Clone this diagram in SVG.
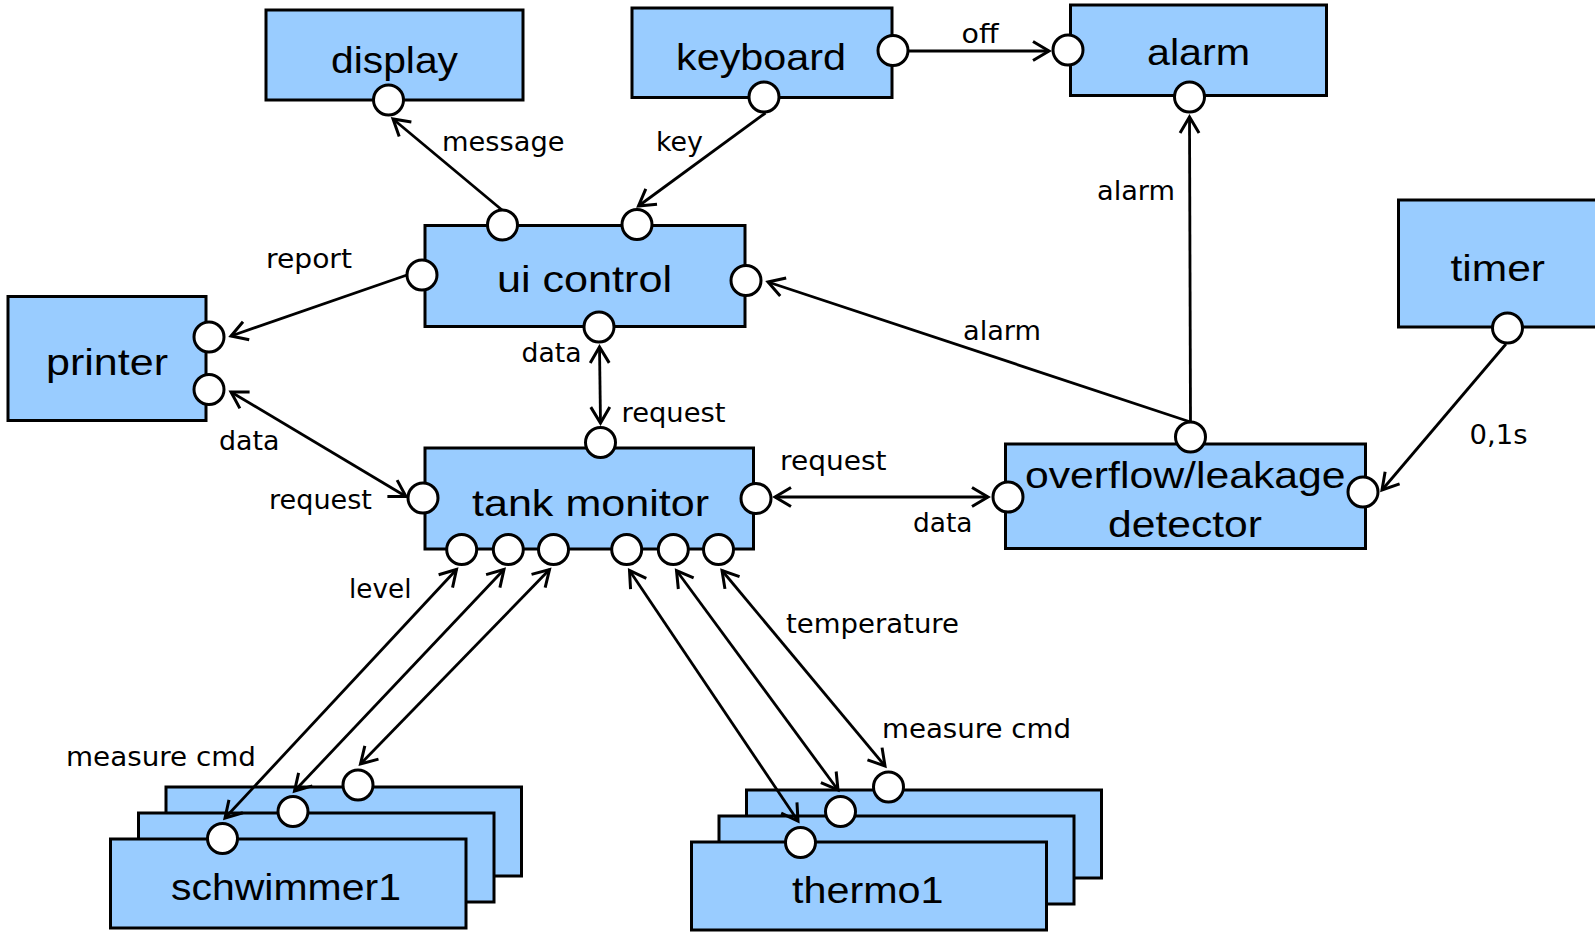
<svg xmlns="http://www.w3.org/2000/svg" width="1595" height="933" viewBox="0 0 1595 933">
<style>
.box{fill:#99CCFF;stroke:#000;stroke-width:3}
.port{fill:#fff;stroke:#000;stroke-width:3}
.bl{font-family:"Liberation Sans",Arial,sans-serif;font-size:36px;fill:#000}
.lb{font-family:"DejaVu Sans","Liberation Sans",sans-serif;font-size:26px;fill:#000}
.c{fill:none;stroke:#000;stroke-width:2.8}
.a{marker-end:url(#ah)}
.aa{marker-end:url(#ah);marker-start:url(#ah)}
</style>
<defs>
<marker id="ah" markerUnits="userSpaceOnUse" markerWidth="24" markerHeight="24" viewBox="0 0 24 24" refX="20" refY="12" orient="auto-start-reverse">
<path d="M4,2.5 L20,12 L4,21.5" fill="none" stroke="#000" stroke-width="3"/>
</marker>
</defs>
<rect width="1595" height="933" fill="#fff"/>

<g id="display">
<rect class="box" x="266" y="10" width="257" height="90"/>
<text class="bl" x="331" y="73" textLength="127" lengthAdjust="spacingAndGlyphs">display</text>
<circle class="port" cx="388.5" cy="100" r="15"/>
</g>
<g id="keyboard">
<rect class="box" x="632" y="8" width="260" height="89.5"/>
<text class="bl" x="676" y="69.5" textLength="170" lengthAdjust="spacingAndGlyphs">keyboard</text>
<circle class="port" cx="764" cy="97" r="15"/>
<circle class="port" cx="893" cy="50.5" r="15"/>
</g>
<g id="alarm">
<rect class="box" x="1070.5" y="5" width="256" height="90.5"/>
<text class="bl" x="1147" y="65" textLength="103" lengthAdjust="spacingAndGlyphs">alarm</text>
<circle class="port" cx="1068" cy="50" r="15"/>
<circle class="port" cx="1189.5" cy="97" r="15"/>
</g>
<g id="ui-control">
<rect class="box" x="425" y="225.5" width="320" height="101"/>
<text class="bl" x="497" y="292" textLength="175" lengthAdjust="spacingAndGlyphs">ui control</text>
<circle class="port" cx="502.5" cy="225" r="15"/>
<circle class="port" cx="637" cy="224.5" r="15"/>
<circle class="port" cx="422" cy="275" r="15"/>
<circle class="port" cx="746" cy="280.5" r="15"/>
<circle class="port" cx="599" cy="327" r="15"/>
</g>
<g id="printer">
<rect class="box" x="8" y="296.5" width="198" height="124"/>
<text class="bl" x="46" y="375" textLength="122" lengthAdjust="spacingAndGlyphs">printer</text>
<circle class="port" cx="209" cy="337" r="15"/>
<circle class="port" cx="209" cy="389.5" r="15"/>
</g>
<g id="tank-monitor">
<rect class="box" x="425" y="448" width="328.5" height="101"/>
<text class="bl" x="472" y="515.5" textLength="237" lengthAdjust="spacingAndGlyphs">tank monitor</text>
<circle class="port" cx="600.5" cy="442.5" r="15"/>
<circle class="port" cx="423" cy="498" r="15"/>
<circle class="port" cx="756" cy="498.5" r="15"/>
<circle class="port" cx="461.7" cy="549.5" r="15"/>
<circle class="port" cx="508.3" cy="549.5" r="15"/>
<circle class="port" cx="553.5" cy="549.5" r="15"/>
<circle class="port" cx="626.7" cy="549.5" r="15"/>
<circle class="port" cx="673.3" cy="549.5" r="15"/>
<circle class="port" cx="718.5" cy="549.5" r="15"/>
</g>
<g id="timer">
<rect class="box" x="1398.5" y="200" width="200" height="127"/>
<text class="bl" x="1450.5" y="280.5" textLength="94.5" lengthAdjust="spacingAndGlyphs">timer</text>
<circle class="port" cx="1507.5" cy="328" r="15"/>
</g>
<g id="detector">
<rect class="box" x="1005.5" y="444" width="360" height="104.5"/>
<text class="bl" x="1025" y="487.5" textLength="320.5" lengthAdjust="spacingAndGlyphs">overflow/leakage</text>
<text class="bl" x="1108" y="536.5" textLength="154" lengthAdjust="spacingAndGlyphs">detector</text>
<circle class="port" cx="1190.5" cy="437" r="15"/>
<circle class="port" cx="1008" cy="497" r="15"/>
<circle class="port" cx="1363" cy="492" r="15"/>
</g>
<g id="schwimmer">
<rect class="box" x="166" y="787" width="355.5" height="89"/>
<circle class="port" cx="358" cy="785" r="15"/>
<rect class="box" x="138.5" y="813" width="355.5" height="89"/>
<circle class="port" cx="293" cy="811.5" r="15"/>
<rect class="box" x="110.5" y="839" width="355.5" height="89"/>
<circle class="port" cx="222.5" cy="838.5" r="15"/>
<text class="bl" x="171" y="900" textLength="230" lengthAdjust="spacingAndGlyphs">schwimmer1</text>
</g>
<g id="thermo">
<rect class="box" x="746.5" y="790" width="355" height="88"/>
<circle class="port" cx="888.5" cy="787" r="15"/>
<rect class="box" x="719" y="816" width="355" height="88"/>
<circle class="port" cx="840.5" cy="811.5" r="15"/>
<rect class="box" x="691.5" y="842" width="355" height="88"/>
<circle class="port" cx="800.5" cy="842.5" r="15"/>
<text class="bl" x="792" y="903" textLength="151.5" lengthAdjust="spacingAndGlyphs">thermo1</text>
</g>

<g id="connectors">
<line class="c a" x1="502" y1="210" x2="393" y2="119"/>
<line class="c a" x1="765.5" y1="113" x2="638.5" y2="206"/>
<line class="c a" x1="908" y1="51" x2="1049" y2="51"/>
<line class="c a" x1="407" y1="275" x2="231" y2="336"/>
<line class="c aa" x1="231" y1="392" x2="406" y2="496.5"/>
<line class="c aa" x1="599.5" y1="347" x2="600.5" y2="423"/>
<line class="c a" x1="1190.5" y1="422" x2="768" y2="282"/>
<line class="c a" x1="1190.5" y1="422" x2="1189.5" y2="117"/>
<line class="c aa" x1="775" y1="497" x2="988" y2="497"/>
<line class="c a" x1="1506" y1="344" x2="1382" y2="490"/>
<line class="c aa" x1="456.5" y1="569.5" x2="225" y2="818"/>
<line class="c aa" x1="504" y1="569.5" x2="294.5" y2="791"/>
<line class="c aa" x1="549.5" y1="569.5" x2="360.5" y2="764"/>
<line class="c aa" x1="629.5" y1="570.5" x2="798" y2="821"/>
<line class="c aa" x1="676.5" y1="570.5" x2="838" y2="790"/>
<line class="c aa" x1="722" y1="570.5" x2="885" y2="766"/>
</g>

<g id="labels">
<text class="lb" x="442" y="151" textLength="122.5" lengthAdjust="spacingAndGlyphs">message</text>
<text class="lb" x="656" y="151" textLength="47" lengthAdjust="spacingAndGlyphs">key</text>
<text class="lb" x="961.5" y="43" textLength="37" lengthAdjust="spacingAndGlyphs">off</text>
<text class="lb" x="266" y="268" textLength="86" lengthAdjust="spacingAndGlyphs">report</text>
<text class="lb" x="219" y="449.5" textLength="60.5" lengthAdjust="spacingAndGlyphs">data</text>
<text class="lb" x="269" y="508.5" textLength="103" lengthAdjust="spacingAndGlyphs">request</text>
<text class="lb" x="521.5" y="362" textLength="60" lengthAdjust="spacingAndGlyphs">data</text>
<text class="lb" x="621.5" y="422" textLength="104" lengthAdjust="spacingAndGlyphs">request</text>
<text class="lb" x="1097" y="199.5" textLength="78" lengthAdjust="spacingAndGlyphs">alarm</text>
<text class="lb" x="963" y="340" textLength="78" lengthAdjust="spacingAndGlyphs">alarm</text>
<text class="lb" x="780" y="470" textLength="106.5" lengthAdjust="spacingAndGlyphs">request</text>
<text class="lb" x="913" y="531.5" textLength="59.5" lengthAdjust="spacingAndGlyphs">data</text>
<text class="lb" x="1469.5" y="443.5" textLength="58" lengthAdjust="spacingAndGlyphs">0,1s</text>
<text class="lb" x="349" y="597.5" textLength="62.5" lengthAdjust="spacingAndGlyphs">level</text>
<text class="lb" x="66" y="765.5" textLength="190" lengthAdjust="spacingAndGlyphs">measure cmd</text>
<text class="lb" x="786" y="632.5" textLength="173" lengthAdjust="spacingAndGlyphs">temperature</text>
<text class="lb" x="882" y="737.5" textLength="189" lengthAdjust="spacingAndGlyphs">measure cmd</text>
</g>
</svg>
